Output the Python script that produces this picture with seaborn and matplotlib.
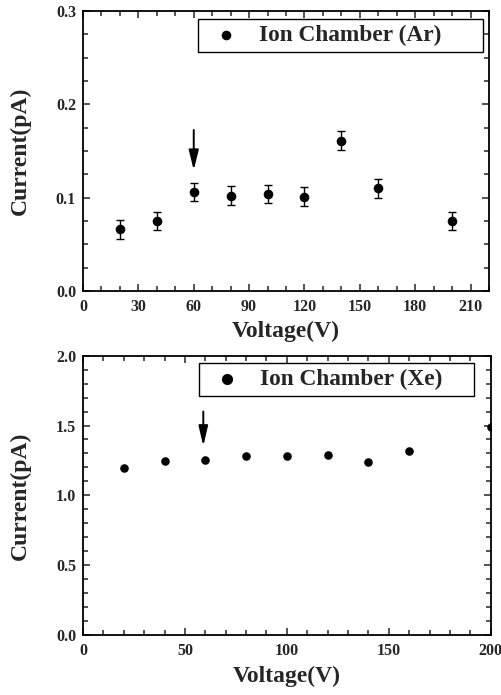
import numpy as np
import matplotlib
matplotlib.use('Agg')
import matplotlib.pyplot as plt
import seaborn as sns
from matplotlib.ticker import MultipleLocator

# --- data ---
ar_voltage = [20, 40, 60, 80, 100, 120, 140, 160, 200]
ar_current = [0.066, 0.075, 0.106, 0.102, 0.104, 0.101, 0.161, 0.110, 0.075]
ar_error = [0.010, 0.010, 0.010, 0.010, 0.010, 0.010, 0.010, 0.010, 0.010]
ar_label = 'Ion Chamber (Ar)'
ar_arrow_x = 60
ar_arrow_from, ar_arrow_to = 0.1725, 0.1296

xe_voltage = [20, 40, 60, 80, 100, 120, 140, 160, 200]
xe_current = [1.194, 1.248, 1.253, 1.284, 1.280, 1.289, 1.237, 1.315, 1.49]
xe_label = 'Ion Chamber (Xe)'
xe_arrow_x = 59
xe_arrow_from, xe_arrow_to = 1.60, 1.353

sns.set_style('ticks')
plt.rcParams['font.family'] = ['Liberation Serif', 'DejaVu Serif']
plt.rcParams['font.weight'] = 'bold'
plt.rcParams['axes.labelweight'] = 'bold'
plt.rcParams['axes.linewidth'] = 1.3
plt.rcParams['xtick.direction'] = 'in'
plt.rcParams['ytick.direction'] = 'in'

fig = plt.figure(figsize=(5.01, 6.95), dpi=100)
ax1 = fig.add_axes([0.1657, 0.5813, 0.8104, 0.4029])
ax2 = fig.add_axes([0.1657, 0.0863, 0.8138, 0.4019])


def style_axis(ax, xmaj, xmin, ymaj, ymin):
    ax.xaxis.set_major_locator(MultipleLocator(xmaj))
    ax.xaxis.set_minor_locator(MultipleLocator(xmin))
    ax.yaxis.set_major_locator(MultipleLocator(ymaj))
    ax.yaxis.set_minor_locator(MultipleLocator(ymin))
    ax.tick_params(which='both', top=True, right=True, width=1.1)
    ax.tick_params(which='major', length=5, labelsize=11.5)
    ax.tick_params(which='minor', length=3.3)
    ax.tick_params(axis='x', pad=6)
    ax.tick_params(axis='y', pad=5)
    for s in ax.spines.values():
        s.set_visible(True)
        s.set_color('black')


def add_legend(ax, box, markerscale=1.0):
    leg = ax.legend(loc='upper left', bbox_to_anchor=box, mode='expand',
                    fontsize=16.8, frameon=True, fancybox=False, framealpha=1,
                    edgecolor='black', handlelength=1.9, handletextpad=0.45,
                    borderpad=0.25, borderaxespad=0, markerscale=markerscale)
    leg.get_frame().set_linewidth(1.0)
    return leg


# --- 上圖 Ar ---
ax1.errorbar(ar_voltage, ar_current, yerr=ar_error, fmt='none', ecolor='black',
             elinewidth=1.0, capsize=2.6, capthick=1.0)
sns.scatterplot(x=ar_voltage, y=ar_current, ax=ax1, color='black', s=48,
                linewidth=0, label=ar_label, zorder=3)
ax1.annotate('', xy=(ar_arrow_x, ar_arrow_to), xytext=(ar_arrow_x, ar_arrow_from),
             arrowprops=dict(arrowstyle='-|>,head_length=1.2,head_width=0.3',
                             mutation_scale=10, color='black', lw=1.4,
                             shrinkA=0, shrinkB=0))
ax1.set_xlim(0, 220)
ax1.set_ylim(0, 0.3)
style_axis(ax1, 30, 10, 0.1, 0.025)
ax1.set_xlabel('Voltage(V)', fontsize=17)
ax1.set_ylabel('Current(pA)', fontsize=17)
ax1.xaxis.set_label_coords(0.5, -0.105)
ax1.yaxis.set_label_coords(-0.128, 0.5)
add_legend(ax1, (0.283, 0.5, 0.702, 0.471))

# --- 下圖 Xe ---
sns.scatterplot(x=xe_voltage, y=xe_current, ax=ax2, color='black', s=38,
                linewidth=0, label=xe_label, zorder=3)
ax2.annotate('', xy=(xe_arrow_x, xe_arrow_to), xytext=(xe_arrow_x, xe_arrow_from),
             arrowprops=dict(arrowstyle='-|>,head_length=1.2,head_width=0.28',
                             mutation_scale=10, color='black', lw=1.4,
                             shrinkA=0, shrinkB=0))
ax2.set_xlim(0, 200)
ax2.set_ylim(0, 2.0)
style_axis(ax2, 50, 10, 0.5, 0.1)
ax2.set_xlabel('Voltage(V)', fontsize=17)
ax2.set_ylabel('Current(pA)', fontsize=17)
ax2.xaxis.set_label_coords(0.5, -0.112)
ax2.yaxis.set_label_coords(-0.128, 0.5)
add_legend(ax2, (0.2845, 0.5, 0.675, 0.475), markerscale=1.3)

fig.savefig('out.png', dpi=100)
